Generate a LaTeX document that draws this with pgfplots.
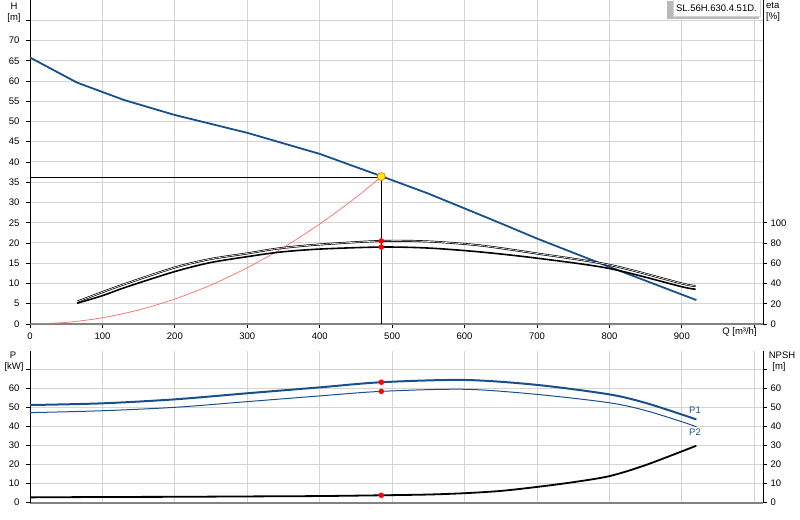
\documentclass[border=0pt]{standalone}
\usepackage{fontspec}
\setmainfont{Liberation Sans}
\usepackage{pgfplots}
\pgfplotsset{compat=1.18}
\definecolor{hblue}{RGB}{25,80,140}
\definecolor{gridc}{RGB}{212,212,212}
\definecolor{sysred}{RGB}{255,105,105}
\definecolor{axgray}{RGB}{130,130,130}
\begin{document}
\begin{tikzpicture}
\useasboundingbox (0bp,0bp) rectangle (800bp,520bp);
\pgfplotsset{
  base/.style={
    scale only axis, width=733bp,
    xmin=0, xmax=1012,
    font=\fontsize{9.5bp}{11bp}\selectfont,
    /pgf/number format/assume math mode=true,
    tick align=outside, major tick length=4bp,
    tick style={black, line width=0.8bp},
    axis line style={-},
    anchor=south west,
  }
}
% ---------- top: H ----------
\begin{axis}[base, at={(30bp,196bp)}, height=324bp, ymin=0, ymax=80,
  axis x line*=bottom, axis y line*=left,
  x axis line style={axgray, line width=1.6bp},
  y axis line style={black, line width=1bp},
  xtick={0,100,...,1000},
  xticklabels={0,100,200,300,400,500,600,700,800,900,{}},
  ytick={0,5,...,75},
  yticklabels={0,5,10,15,20,25,30,35,40,45,50,55,60,65,70,{}},
  grid=major, grid style={gridc, line width=1bp},
  xticklabel style={yshift=-1.5bp},
  yticklabel style={xshift=-3bp},
]
\addplot[sysred, line width=0.7bp, smooth] coordinates {
(0,0) (50,0.39) (100,1.54) (150,3.47) (200,6.17) (250,9.64) (300,13.89) (350,18.9) (400,24.69) (450,31.25) (485,36.4)};
\addplot[black, line width=0.8bp] coordinates {(0,36.2) (485,36.2)};
\addplot[black, line width=0.8bp] coordinates {(485,36.4) (485,0)};
\addplot[hblue, line width=1.8bp] coordinates {
(0,65.8) (65,59.6) (130,55.3) (200,51.6) (300,47.2) (400,42.0) (485,36.5) (550,32.2) (640,25.6) (700,21.1) (800,14.1) (920,5.9)};
\addplot[only marks, mark=*, mark size=4bp, mark options={fill=yellow, draw=orange!70!red, line width=0.6bp}] coordinates {(485,36.4)};
\end{axis}
% ---------- top: eta ----------
\begin{axis}[base, at={(30bp,196bp)}, height=324bp, ymin=0, ymax=320,
  axis x line=none, axis y line*=right,
  y axis line style={black, line width=1bp},
  ytick={0,20,...,100},
  yticklabel style={xshift=0bp},
]
\addplot[black, line width=1.6bp, smooth, tension=0.5] coordinates {
(65,20.5) (100,28) (133,36.5) (199,51.6) (248,60.5) (299,66.4) (345,71) (400,74) (485,76) (550,75) (621,71.2) (700,65) (800,54.8) (900,36.8) (919,34.5)};
\addplot[black, line width=0.7bp, double=white, double distance=0.6bp, smooth, tension=0.5] coordinates {
(65,22) (100,31.5) (133,40) (199,55.6) (248,64) (299,69.6) (345,74.8) (400,78.5) (485,82) (550,81.5) (621,77.6) (700,69.6) (800,58.4) (900,40) (919,37.6)};
\addplot[only marks, mark=*, mark size=2.5bp, red] coordinates {(485,82) (485,76)};
\end{axis}
% ---------- bottom: P, NPSH ----------
\begin{axis}[base, at={(30bp,17.3bp)}, height=152bp, ymin=0, ymax=80,
  axis x line*=bottom, axis y line*=left,
  x axis line style={axgray, line width=1.6bp},
  y axis line style={black, line width=1bp},
  xtick={100,200,...,1000}, xticklabels={},
  xtick style={draw=none},
  ytick={0,10,...,70},
  yticklabels={0,10,20,30,40,50,60,{}},
  grid=major, grid style={gridc, line width=1bp},
  yticklabel style={xshift=-3bp},
]
\addplot[black, line width=1.8bp, smooth, tension=0.5] coordinates {
(0,2.8) (100,3.0) (200,3.1) (300,3.3) (400,3.5) (485,3.9) (550,4.3) (600,5.0) (650,6.2) (700,8.3) (750,10.8) (800,14.0) (850,19.8) (920,30)};
\addplot[hblue, line width=2bp, smooth, tension=0.5] coordinates {
(0,51.4) (100,52.3) (200,54.4) (300,57.6) (400,60.7) (485,63.4) (600,64.6) (700,62.0) (800,57.0) (850,52.5) (900,46.4) (920,43.8)};
\addplot[hblue, line width=1bp, smooth, tension=0.5] coordinates {
(0,47.4) (100,48.4) (200,50.2) (300,53.2) (400,56.2) (485,58.6) (600,59.7) (700,57.0) (800,52.6) (850,48.5) (900,42.6) (920,40.0)};
\addplot[only marks, mark=*, mark size=2.5bp, red] coordinates {(485,63.4) (485,58.6) (485,3.9)};
\end{axis}
\begin{axis}[base, at={(30bp,17.3bp)}, height=152bp, ymin=0, ymax=80,
  axis x line=none, axis y line*=right,
  y axis line style={black, line width=1bp},
  ytick={0,10,...,70},
  yticklabels={0,10,20,30,40,50,60,{}},
  yticklabel style={xshift=0bp},
]
\end{axis}
% ---------- texts ----------
\begin{scope}[font=\fontsize{9.5bp}{11bp}\selectfont]
\node at (14bp,514bp) {H};
\node at (14bp,502bp) {[m]};
\node[anchor=west, inner sep=0] at (766bp,515bp) {eta};
\node[anchor=west, inner sep=0] at (766bp,503bp) {[\%]};
\node at (13bp,165bp) {P};
\node at (14bp,153bp) {[kW]};
\node at (782bp,165bp) {NPSH};
\node at (779bp,153bp) {[m]};
\node at (739.5bp,188bp) {Q [m³/h]};
\node[text=hblue] at (695bp,110bp) {P1};
\node[text=hblue] at (695bp,88bp) {P2};
\fill[gray!55] (666.5bp,501bp) rectangle (759bp,519bp);
\node[fill=white, draw=gray!35, anchor=north east, minimum height=17bp, inner xsep=3bp, inner ysep=0bp] at (760bp,520.5bp) {SL.56H.630.4.51D.};
\end{scope}
\end{tikzpicture}
\end{document}
